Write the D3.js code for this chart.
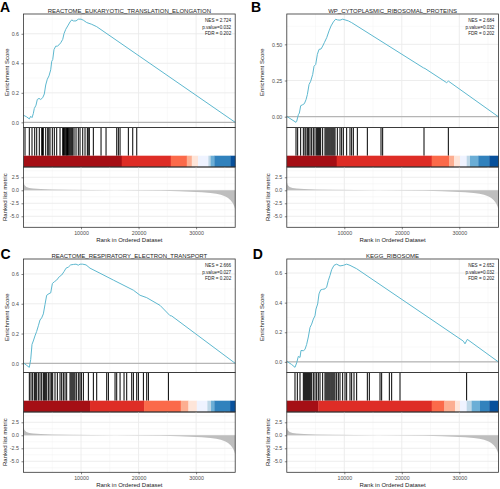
<!DOCTYPE html>
<html><head><meta charset="utf-8">
<script src="https://cdn.jsdelivr.net/npm/d3@7"></script>
<style>
body{margin:0;background:#fff}
svg{display:block}
text{font-family:"Liberation Sans",Arial,Helvetica,sans-serif}
</style>
</head><body><svg id="chart" width="500" height="489"></svg>
<script>
// ---------------- data ----------------
const N_GENES = 36800;
const panelLetters = ["A", "B", "C", "D"];
const geneSetTitles = [
  "REACTOME_EUKARYOTIC_TRANSLATION_ELONGATION",
  "WP_CYTOPLASMIC_RIBOSOMAL_PROTEINS",
  "REACTOME_RESPIRATORY_ELECTRON_TRANSPORT",
  "KEGG_RIBOSOME"
];
const nesValues = ["2.724", "2.684", "2.666", "2.652"];
const pValues = ["0.032", "0.032", "0.027", "0.032"];
const fdrValues = ["0.202", "0.202", "0.202", "0.202"];

const xTickValues = [10000, 20000, 30000];
const esTicksTenths = [0, 0.2, 0.4, 0.6];
const esTicksQuarters = [0, 0.25, 0.5];
const metricTicks = [-5, -2.5, 0, 2.5];
const metricDomain = [-7.12, 4.48];

// ranked list metric (shared by all panels)
const metricRanks = [0, 150, 500, 1000, 1700, 3000, 5000, 8000, 12000, 16000, 20000, 24000, 27000, 29000, 31000, 32500, 33500, 34300, 35000, 35500, 36000, 36400, 36650, 36800];
const metricValues = [1.6, 1.0, 0.65, 0.45, 0.33, 0.24, 0.17, 0.11, 0.06, 0.02, -0.02, -0.1, -0.18, -0.26, -0.38, -0.52, -0.68, -0.88, -1.15, -1.45, -1.9, -2.5, -3.1, -3.7];

// running enrichment score curves (rank, score)
const esRanksA = [0, 556, 1009, 1252, 1478, 1704, 1878, 2174, 2400, 2696, 2991, 3339, 3617, 3861, 4139, 4435, 4730, 4904, 5078, 5304, 5600, 5878, 6174, 6470, 6817, 7043, 7339, 7687, 8087, 8383, 8661, 9130, 9530, 10000, 10400, 10991, 11861, 12730, 36800];
const esScoresA = [0.048, 0.037, 0.023, 0.041, 0.032, 0.059, 0.094, 0.116, 0.155, 0.162, 0.155, 0.167, 0.192, 0.253, 0.292, 0.315, 0.356, 0.413, 0.425, 0.493, 0.516, 0.516, 0.525, 0.539, 0.562, 0.601, 0.630, 0.653, 0.680, 0.694, 0.687, 0.687, 0.699, 0.699, 0.692, 0.676, 0.664, 0.648, 0.0];

const esRanksB = [0, 1600, 1722, 2012, 2186, 2417, 2765, 3055, 3345, 3577, 3867, 4157, 4504, 4736, 5026, 5316, 5606, 5954, 6243, 6533, 6939, 7345, 7693, 8098, 8504, 8794, 9257, 9722, 10122, 10702, 11281, 23745, 24035, 27806, 28096, 36780];
const esScoresB = [0.002, -0.039, -0.032, 0.014, 0.025, 0.076, 0.083, 0.090, 0.118, 0.153, 0.222, 0.245, 0.292, 0.349, 0.361, 0.431, 0.465, 0.468, 0.488, 0.512, 0.546, 0.593, 0.627, 0.655, 0.674, 0.669, 0.667, 0.674, 0.669, 0.662, 0.650, 0.338, 0.333, 0.235, 0.246, 0.0];

const esRanksC = [0, 556, 1009, 1252, 1478, 1704, 1991, 2287, 2583, 2870, 3157, 3452, 3739, 4026, 4435, 4730, 5017, 5365, 5765, 6226, 6633, 7043, 7391, 7791, 8200, 8661, 9130, 9530, 9826, 10287, 10870, 11565, 13304, 15626, 19103, 20261, 21420, 23739, 25478, 25765, 36800];
const esScoresC = [0.003, -0.014, -0.027, 0.025, 0.127, 0.150, 0.184, 0.214, 0.252, 0.291, 0.305, 0.332, 0.395, 0.457, 0.468, 0.473, 0.536, 0.548, 0.559, 0.582, 0.593, 0.616, 0.639, 0.646, 0.661, 0.664, 0.666, 0.659, 0.666, 0.666, 0.661, 0.639, 0.605, 0.559, 0.491, 0.457, 0.441, 0.389, 0.320, 0.318, 0.0];

const esRanksD = [0, 847, 1426, 1716, 2006, 2296, 2470, 2875, 3165, 3455, 3745, 4035, 4325, 4614, 4904, 5078, 5368, 5600, 5890, 6238, 6643, 6933, 7223, 7513, 7803, 8209, 8672, 9252, 9832, 10412, 10991, 12151, 30701, 30991, 31397, 36788];
const esScoresD = [0.004, -0.018, -0.037, -0.007, 0.037, 0.030, 0.077, 0.075, 0.084, 0.118, 0.168, 0.232, 0.255, 0.289, 0.311, 0.357, 0.391, 0.459, 0.486, 0.490, 0.493, 0.505, 0.550, 0.584, 0.623, 0.652, 0.660, 0.648, 0.652, 0.660, 0.652, 0.629, 0.140, 0.122, 0.152, 0.0];

// positions (ranks) of gene-set members
const hitsA = [261, 1009, 1478, 1948, 2296, 2748, 3165, 3300, 3443, 3861, 4209, 4400, 4609, 5009, 5357, 5774, 6348, 6817, 6950, 7100, 7250, 7400, 7500, 7650, 7800, 7950, 8100, 8250, 8400, 8557, 8783, 9130, 9530, 9826, 10296, 10696, 11096, 11250, 11443, 12139, 13478, 14348, 16209, 16487, 16783, 18226, 18991, 19687];
const hitsB = [1600, 1890, 2412, 2875, 3165, 3339, 3629, 3803, 4035, 4325, 4614, 4904, 5194, 5368, 5542, 5716, 5890, 6238, 6643, 6817, 6991, 7165, 7339, 7513, 7687, 7861, 8035, 8209, 8383, 8788, 9252, 9542, 9832, 10412, 10991, 11281, 11571, 12267, 14006, 16383, 16672, 23861, 28093];
const hitsC = [1014, 1304, 1594, 1884, 2058, 2290, 2580, 2870, 3159, 3449, 3623, 3797, 4029, 4319, 4609, 4841, 5072, 5478, 5884, 6348, 6638, 6928, 7217, 7507, 8087, 8261, 8435, 8609, 8783, 8957, 9246, 9594, 9826, 10058, 10406, 11275, 12145, 12725, 14464, 14754, 15913, 16203, 16783, 17478, 17942, 18812, 19101, 19681, 19971, 20841, 21420, 21710, 25188];
const hitsD = [1426, 1832, 2296, 2875, 3049, 3223, 3397, 3571, 3745, 3919, 4093, 4325, 4614, 4904, 5194, 5484, 5774, 6238, 6643, 6817, 6991, 7165, 7339, 7513, 7687, 7861, 8035, 8209, 8383, 8672, 8962, 9252, 9716, 10122, 10412, 10991, 11281, 11687, 12151, 14006, 14354, 16209, 16499, 17832, 18238, 19687, 31275];

// colour bar: rank where each of the 10 segments starts (plus the end)
const barPalette = ["#A50F15", "#DE2D26", "#FB6A4A", "#FCAE91", "#FEE5D9", "#EFF3FF", "#BDD7E7", "#6BAED6", "#3182BD", "#08519C"];
const barBreaksA = [0, 17078, 25600, 28383, 29252, 30348, 32139, 32522, 33183, 36000, 36800];
const barBreaksB = [0, 8678, 25200, 28209, 29078, 30122, 31287, 31861, 33304, 35217, 36800];
const barBreaksC = [0, 11565, 20957, 27339, 28661, 30122, 31965, 32600, 33183, 35913, 36800];
const barBreaksD = [0, 5478, 25200, 27391, 29252, 30122, 31287, 32157, 33600, 35217, 36800];

// ---------------- drawing ----------------
const svg = d3.select("#chart");
svg.append("rect").attr("width", 500).attr("height", 489).attr("fill", "#fff");

const panels = [
  {ox: 0, oy: 0, left: 23.5, right: 235.2, esT: 7.3, mT: 4.7, lx: 0, ly: 11.7, esR: esRanksA, esS: esScoresA, hits: hitsA, bar: barBreaksA, esTicks: esTicksTenths, esFmt: ".1f"},
  {ox: 250, oy: 0, left: 36.8, right: 248.4, esT: 11.7, mT: 18.3, lx: 1, ly: 11.7, esR: esRanksB, esS: esScoresB, hits: hitsB, bar: barBreaksB, esTicks: esTicksQuarters, esFmt: ".2f"},
  {ox: 0, oy: 245, left: 23.5, right: 235.2, esT: 7.3, mT: 4.7, lx: 0.5, ly: 14, esR: esRanksC, esS: esScoresC, hits: hitsC, bar: barBreaksC, esTicks: esTicksTenths, esFmt: ".1f"},
  {ox: 250, oy: 245, left: 36.8, right: 248.4, esT: 11.7, mT: 18.3, lx: 2.7, ly: 14, esR: esRanksD, esS: esScoresD, hits: hitsD, bar: barBreaksD, esTicks: esTicksTenths, esFmt: ".1f"}
];

const ES_TOP = 14, ES_BOT = 127.5, HIT_TOP = 128, BAR_TOP = 155.7, BAR_BOT = 167, M_TOP = 167, M_BOT = 227.3;
const GRID_MAJ = "#EBEBEB", GRID_MIN = "#F2F2F2", BORDER = "#333333", TICKTXT = "#4D4D4D";
const fmtNum = f => (v => { const s = d3.format(f)(Math.abs(v)); return (v < 0 ? "-" : "") + s; });

panels.forEach((p, i) => {
  const g = svg.append("g").attr("transform", `translate(${p.ox},${p.oy})`);
  const x = d3.scaleLinear().domain([0, N_GENES]).range([p.left, p.right]);
  const esExt = d3.extent(p.esS);
  const pad = (esExt[1] - esExt[0]) * 0.05;
  const y = d3.scaleLinear().domain([esExt[0] - pad, esExt[1] + pad]).range([ES_BOT, ES_TOP]);
  const ym = d3.scaleLinear().domain(metricDomain).range([M_BOT, M_TOP]);
  const W = p.right - p.left;

  // panel letter + title
  g.append("text").attr("x", p.lx).attr("y", p.ly).attr("font-size", 14).attr("font-weight", "bold").text(panelLetters[i]);
  g.append("text").attr("x", (p.left + p.right) / 2).attr("y", 12.9).attr("text-anchor", "middle")
    .attr("font-size", 6).attr("fill", "#1a1a1a").text(geneSetTitles[i]);

  // ---- ES panel grid ----
  const minorX = [5000, 15000, 25000, 35000];
  const esMinor = p.esTicks.slice(0, -1).map((t, k) => (t + p.esTicks[k + 1]) / 2)
    .concat([p.esTicks[p.esTicks.length - 1] + (p.esTicks[1] - p.esTicks[0]) / 2]);
  const gEs = g.append("g");
  gEs.selectAll(".mx").data(minorX).join("line").attr("x1", d => x(d)).attr("x2", d => x(d))
    .attr("y1", ES_TOP).attr("y2", ES_BOT).attr("stroke", GRID_MIN).attr("stroke-width", 0.5);
  gEs.selectAll(".my").data(esMinor.filter(v => y(v) > ES_TOP)).join("line").attr("x1", p.left).attr("x2", p.right)
    .attr("y1", d => y(d)).attr("y2", d => y(d)).attr("stroke", GRID_MIN).attr("stroke-width", 0.5);
  gEs.selectAll(".Mx").data(xTickValues).join("line").attr("x1", d => x(d)).attr("x2", d => x(d))
    .attr("y1", ES_TOP).attr("y2", ES_BOT).attr("stroke", GRID_MAJ).attr("stroke-width", 0.9);
  gEs.selectAll(".My").data(p.esTicks).join("line").attr("x1", p.left).attr("x2", p.right)
    .attr("y1", d => y(d)).attr("y2", d => y(d)).attr("stroke", GRID_MAJ).attr("stroke-width", 0.9);
  // zero line
  g.append("line").attr("x1", p.left).attr("x2", p.right).attr("y1", y(0)).attr("y2", y(0))
    .attr("stroke", "#A8A8A8").attr("stroke-width", 1);
  // ES curve
  const pts = p.esR.map((r, k) => [r, p.esS[k]]);
  g.append("path").datum(pts).attr("fill", "none").attr("stroke", "#5DB8CF").attr("stroke-width", 1)
    .attr("stroke-linejoin", "round")
    .attr("d", d3.line().x(d => x(d[0])).y(d => y(d[1])));
  // y axis
  const axY = g.append("g").attr("transform", `translate(${p.left},0)`)
    .call(d3.axisLeft(y).tickValues(p.esTicks).tickSize(2).tickPadding(2.5).tickFormat(fmtNum(p.esFmt)));
  axY.select(".domain").remove();
  axY.selectAll("line").attr("stroke", BORDER).attr("stroke-width", 0.6);
  axY.selectAll("text").attr("font-size", 5.3).attr("fill", TICKTXT).attr("font-family", "Liberation Sans, Arial, sans-serif");
  g.append("rect").attr("x", p.left).attr("y", ES_TOP).attr("width", W).attr("height", ES_BOT - ES_TOP)
    .attr("fill", "none").attr("stroke", BORDER).attr("stroke-width", 0.8);
  // stats text
  const stats = [`NES = ${nesValues[i]}`, `p.value=${pValues[i]}`, `FDR = ${fdrValues[i]}`];
  const statY = [22.4, 28.6, 35.0];
  stats.forEach((s, k) => g.append("text").attr("x", p.right - 4).attr("y", statY[k]).attr("text-anchor", "end")
    .attr("font-size", 4.6).attr("fill", "#1a1a1a").text(s));
  // y title
  g.append("text").attr("transform", `translate(${p.esT + 2},${(ES_TOP + ES_BOT) / 2 + 1.5}) rotate(-90)`)
    .attr("text-anchor", "middle").attr("font-size", 6).attr("fill", "#1a1a1a").text("Enrichment Score");

  // ---- hits panel ----
  g.selectAll(".hit").data(p.hits).join("line").attr("x1", d => x(d)).attr("x2", d => x(d))
    .attr("y1", HIT_TOP).attr("y2", BAR_TOP).attr("stroke", "#000").attr("stroke-width", 1.0);
  const segs = p.bar.slice(0, -1).map((b, k) => ({s: b, e: p.bar[k + 1], c: barPalette[k]}));
  g.selectAll(".seg").data(segs).join("rect").attr("x", d => x(d.s)).attr("width", d => x(d.e) - x(d.s) + 0.3)
    .attr("y", BAR_TOP).attr("height", BAR_BOT - BAR_TOP).attr("fill", d => d.c);
  g.append("rect").attr("x", p.left).attr("y", ES_BOT).attr("width", W).attr("height", BAR_BOT - ES_BOT)
    .attr("fill", "none").attr("stroke", BORDER).attr("stroke-width", 0.8);

  // ---- ranked metric panel ----
  const gm = g.append("g");
  const mMinor = [-6.25, -3.75, -1.25, 1.25, 3.75];
  gm.selectAll(".mx").data(minorX).join("line").attr("x1", d => x(d)).attr("x2", d => x(d))
    .attr("y1", M_TOP).attr("y2", M_BOT).attr("stroke", GRID_MIN).attr("stroke-width", 0.5);
  gm.selectAll(".my").data(mMinor).join("line").attr("x1", p.left).attr("x2", p.right)
    .attr("y1", d => ym(d)).attr("y2", d => ym(d)).attr("stroke", GRID_MIN).attr("stroke-width", 0.5);
  gm.selectAll(".Mx").data(xTickValues).join("line").attr("x1", d => x(d)).attr("x2", d => x(d))
    .attr("y1", M_TOP).attr("y2", M_BOT).attr("stroke", GRID_MAJ).attr("stroke-width", 0.9);
  gm.selectAll(".My").data(metricTicks).join("line").attr("x1", p.left).attr("x2", p.right)
    .attr("y1", d => ym(d)).attr("y2", d => ym(d)).attr("stroke", GRID_MAJ).attr("stroke-width", 0.9);
  const mpts = metricRanks.map((r, k) => [r, metricValues[k]]);
  g.append("path").datum(mpts).attr("fill", "#BEBEBE").attr("stroke", "none")
    .attr("d", d3.area().x(d => x(d[0])).y0(ym(0)).y1(d => ym(d[1])));
  const axM = g.append("g").attr("transform", `translate(${p.left},0)`)
    .call(d3.axisLeft(ym).tickValues(metricTicks).tickSize(2).tickPadding(2.5).tickFormat(fmtNum(".1f")));
  axM.select(".domain").remove();
  axM.selectAll("line").attr("stroke", BORDER).attr("stroke-width", 0.6);
  axM.selectAll("text").attr("font-size", 5.3).attr("fill", TICKTXT).attr("font-family", "Liberation Sans, Arial, sans-serif");
  const axX = g.append("g").attr("transform", `translate(0,${M_BOT})`)
    .call(d3.axisBottom(x).tickValues(xTickValues).tickSize(2).tickPadding(1.5).tickFormat(d3.format("d")));
  axX.select(".domain").remove();
  axX.selectAll("line").attr("stroke", BORDER).attr("stroke-width", 0.6);
  axX.selectAll("text").attr("font-size", 5.3).attr("fill", TICKTXT).attr("font-family", "Liberation Sans, Arial, sans-serif");
  g.append("rect").attr("x", p.left).attr("y", M_TOP).attr("width", W).attr("height", M_BOT - M_TOP)
    .attr("fill", "none").attr("stroke", BORDER).attr("stroke-width", 0.8);
  g.append("text").attr("transform", `translate(${p.mT + 2},${(M_TOP + M_BOT) / 2}) rotate(-90)`)
    .attr("text-anchor", "middle").attr("font-size", 6).attr("fill", "#1a1a1a").text("Ranked list metric");
  g.append("text").attr("x", (p.left + p.right) / 2).attr("y", 242.1).attr("text-anchor", "middle")
    .attr("font-size", 6).attr("fill", "#1a1a1a").text("Rank in Ordered Dataset");
});
</script>
</body></html>
